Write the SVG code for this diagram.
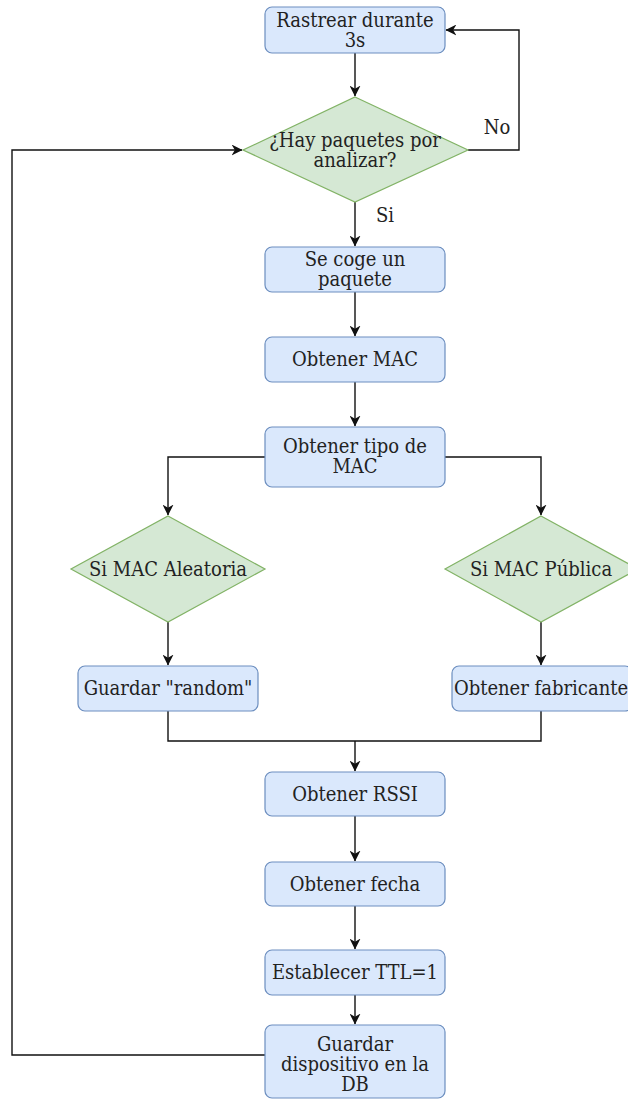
<svg xmlns="http://www.w3.org/2000/svg" width="628" height="1099" viewBox="0 0 628 1099">
<style>
.box{fill:#dae8fc;stroke:#6c8ebf;stroke-width:1.2}
.dia{fill:#d5e8d4;stroke:#82b366;stroke-width:1.2}
.t{font-family:"DejaVu Serif",serif;font-stretch:condensed;font-size:20px;fill:#222;text-anchor:middle}
.c{fill:none;stroke:#111;stroke-width:1.4}
</style>
<defs>
<marker id="ah" viewBox="0 0 10 10" refX="9.5" refY="5" markerWidth="11" markerHeight="11" markerUnits="userSpaceOnUse" orient="auto">
<path d="M0,0 L10,5 L0,10 L3,5 Z" fill="#111"/>
</marker>
</defs>
<g id="connectors">
<path class="c" d="M355,53 V96" marker-end="url(#ah)"/>
<path class="c" d="M468,150 H519 V30 H446" marker-end="url(#ah)"/>
<path class="c" d="M355,202 V246" marker-end="url(#ah)"/>
<path class="c" d="M355,292 V336" marker-end="url(#ah)"/>
<path class="c" d="M355,382 V426" marker-end="url(#ah)"/>
<path class="c" d="M265,457 H168 V515" marker-end="url(#ah)"/>
<path class="c" d="M444,457 H541 V515" marker-end="url(#ah)"/>
<path class="c" d="M168,622 V665" marker-end="url(#ah)"/>
<path class="c" d="M541,622 V665" marker-end="url(#ah)"/>
<path class="c" d="M168,711 V741 H541 V711"/>
<path class="c" d="M355,741 V771" marker-end="url(#ah)"/>
<path class="c" d="M355,816 V861" marker-end="url(#ah)"/>
<path class="c" d="M355,906 V949" marker-end="url(#ah)"/>
<path class="c" d="M355,995 V1024" marker-end="url(#ah)"/>
<path class="c" d="M265,1055 H12 V150 H242" marker-end="url(#ah)"/>
<text class="t" x="497" y="134">No</text>
<text class="t" x="385" y="222">Si</text>
</g>
<g id="n1"><rect class="box" x="265" y="7" width="180" height="46" rx="7"/><text class="t" x="355" y="27">Rastrear durante<tspan x="355" dy="20">3s</tspan></text></g>
<g id="n2"><polygon class="dia" points="355,97 468,150 355,202 243,150"/><text class="t" x="355" y="147">¿Hay paquetes por<tspan x="355" dy="20">analizar?</tspan></text></g>
<g id="n3"><rect class="box" x="265" y="247" width="180" height="45" rx="7"/><text class="t" x="355" y="266">Se coge un<tspan x="355" dy="20">paquete</tspan></text></g>
<g id="n4"><rect class="box" x="265" y="337" width="180" height="45" rx="7"/><text class="t" x="355" y="366">Obtener MAC</text></g>
<g id="n5"><rect class="box" x="265" y="427" width="180" height="60" rx="7"/><text class="t" x="355" y="453">Obtener tipo de<tspan x="355" dy="20">MAC</tspan></text></g>
<g id="n6"><polygon class="dia" points="168,516 265,569 168,622 71,569"/><text class="t" x="168" y="576">Si MAC Aleatoria</text></g>
<g id="n7"><polygon class="dia" points="541,516 638,569 541,622 445,569"/><text class="t" x="541" y="576">Si MAC Pública</text></g>
<g id="n8"><rect class="box" x="78" y="666" width="180" height="45" rx="7"/><text class="t" x="168" y="695">Guardar "random"</text></g>
<g id="n9"><rect class="box" x="452" y="666" width="180" height="45" rx="7"/><text class="t" x="541" y="695">Obtener fabricante</text></g>
<g id="n10"><rect class="box" x="265" y="772" width="180" height="44" rx="7"/><text class="t" x="355" y="801">Obtener RSSI</text></g>
<g id="n11"><rect class="box" x="265" y="862" width="180" height="44" rx="7"/><text class="t" x="355" y="891">Obtener fecha</text></g>
<g id="n12"><rect class="box" x="265" y="950" width="180" height="45" rx="7"/><text class="t" x="355" y="979">Establecer TTL=1</text></g>
<g id="n13"><rect class="box" x="265" y="1025" width="180" height="73" rx="7"/><text class="t" x="355" y="1051">Guardar<tspan x="355" dy="20">dispositivo en la</tspan><tspan x="355" dy="20">DB</tspan></text></g>
</svg>
